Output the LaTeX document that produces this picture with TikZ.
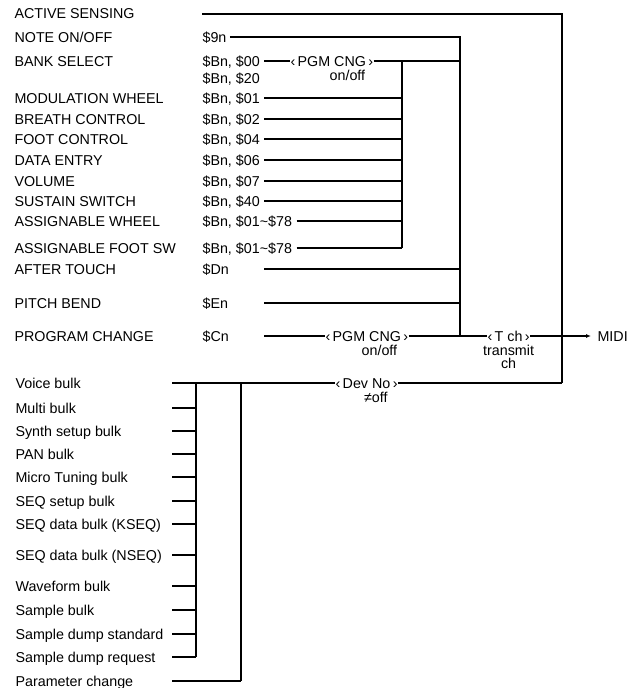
\documentclass[tikz,border=0pt]{standalone}
\usepackage{fontspec}
\setmainfont{Liberation Sans}
\usetikzlibrary{positioning, calc, arrows.meta}

\tikzset{
  msg/.style={anchor=west, inner sep=0pt, text height=10pt, text depth=0pt},
  short/.style={msg, text width=57pt, align=left},
  sw/.style={anchor=west, inner sep=0pt, text height=10pt, text depth=0pt},
  sub/.style={inner sep=0pt, text height=10pt, text depth=0pt},
  feed/.style={shorten <=4pt},
}

\begin{document}
\begin{tikzpicture}[x=1pt, y=-1pt, font=\fontsize{14.3}{16}\selectfont, line width=1.1pt]
  \useasboundingbox (0,0) rectangle (637,688);

  % Channel messages
  \node[msg] (as)  at (14,14)  {ACTIVE SENSING};
  \node[msg] (no)  at (14,37)  {NOTE ON/OFF};
  \node[msg] (bs)  at (14,61)  {BANK SELECT};
  \node[msg] (mw)  at (14,98)  {MODULATION WHEEL};
  \node[msg] (bc)  at (14,119) {BREATH CONTROL};
  \node[msg] (fc)  at (14,139) {FOOT CONTROL};
  \node[msg] (de)  at (14,160) {DATA ENTRY};
  \node[msg] (vo)  at (14,181) {VOLUME};
  \node[msg] (ss)  at (14,201) {SUSTAIN SWITCH};
  \node[msg] (aw)  at (14,221) {ASSIGNABLE WHEEL};
  \node[msg] (af)  at (14,248) {ASSIGNABLE FOOT SW};
  \node[msg] (aft) at (14,269) {AFTER TOUCH};
  \node[msg] (pb)  at (14,303) {PITCH BEND};
  \node[msg] (pc)  at (14,336) {PROGRAM CHANGE};

  % Status bytes
  \coordinate (c-as) at (202,14);
  \node[msg]   (c-no)  at (202,37)  {\$9n};
  \node[msg]   (c-bs)  at (202,61)  {\$Bn, \$00};
  \node[msg]   (c-bs2) at (202,78)  {\$Bn, \$20};
  \node[msg]   (c-mw)  at (202,98)  {\$Bn, \$01};
  \node[msg]   (c-bc)  at (202,119) {\$Bn, \$02};
  \node[msg]   (c-fc)  at (202,139) {\$Bn, \$04};
  \node[msg]   (c-de)  at (202,160) {\$Bn, \$06};
  \node[msg]   (c-vo)  at (202,181) {\$Bn, \$07};
  \node[msg]   (c-ss)  at (202,201) {\$Bn, \$40};
  \node[msg]   (c-aw)  at (202,221) {\$Bn, \$01\textasciitilde\$78};
  \node[msg]   (c-af)  at (202,248) {\$Bn, \$01\textasciitilde\$78};
  \node[short] (c-aft) at (202,269) {\$Dn};
  \node[short] (c-pb)  at (202,303) {\$En};
  \node[short] (c-pc)  at (202,336) {\$Cn};

  % Switches
  \node[sw] (pgm1) at (290,61) {‹\,PGM CNG\,›};
  \node[sub, anchor=north east] (oo1) at ([xshift=-8pt, yshift=-3pt]pgm1.south east) {on/off};
  \node[sw] (pgm2) at (325,336) {‹\,PGM CNG\,›};
  \node[sub, anchor=north east] (oo2) at ([xshift=-11pt, yshift=-3pt]pgm2.south east) {on/off};
  \node[sw] (tch) at (487,336) {‹\,T ch\,›};
  \node[sub, anchor=north] (tx) at ([yshift=-3pt]tch.south) {transmit};
  \node[sub, anchor=north] (txch) at ([yshift=-2pt]tx.south) {ch};
  \node[sw] (midi) at (597,336) {MIDI};

  % Buses
  \coordinate (busA-top) at (402,61);
  \coordinate (busA-bot) at (402,248);
  \coordinate (busB-top) at (460,37);
  \coordinate (busB-bot) at (460,336);
  \coordinate (busC-top) at (562,14);
  \coordinate (busC-bot) at (562,383);

  \draw (c-as) -- (busC-top) -- (busC-bot);
  \draw[shorten <=3pt] (c-no.east) -- (busB-top) -- (busB-bot);
  \draw[feed] (c-bs.east) -- (pgm1.west);
  \draw (pgm1.east) -- (pgm1.east -| busB-top);
  \draw (busA-top) -- (busA-bot);
  \draw[feed] (c-mw.east) -- (c-mw -| busA-top);
  \draw[feed] (c-bc.east) -- (c-bc -| busA-top);
  \draw[feed] (c-fc.east) -- (c-fc -| busA-top);
  \draw[feed] (c-de.east) -- (c-de -| busA-top);
  \draw[feed] (c-vo.east) -- (c-vo -| busA-top);
  \draw[feed] (c-ss.east) -- (c-ss -| busA-top);
  \draw[feed] (c-aw.east) -- (c-aw -| busA-top);
  \draw[feed] (c-af.east) -- (busA-bot);
  \draw[feed] (c-aft.east) -- (c-aft -| busB-top);
  \draw[feed] (c-pb.east) -- (c-pb -| busB-top);
  \draw[feed] (c-pc.east) -- (pgm2.west);
  \draw (pgm2.east) -- (tch.west);
  \draw[-{Latex[length=5pt, width=4pt]}, shorten >=6pt] (tch.east) -- (midi.west);

  % System exclusive messages
  \node[msg] (vb)   at (15,383) {Voice bulk};
  \node[msg] (mb)   at (15,408) {Multi bulk};
  \node[msg] (sb)   at (15,431) {Synth setup bulk};
  \node[msg] (pan)  at (15,454) {PAN bulk};
  \node[msg] (mt)   at (15,477) {Micro Tuning bulk};
  \node[msg] (sq)   at (15,501) {SEQ setup bulk};
  \node[msg] (kseq) at (15,524) {SEQ data bulk (KSEQ)};
  \node[msg] (nseq) at (15,555) {SEQ data bulk (NSEQ)};
  \node[msg] (wf)   at (15,586) {Waveform bulk};
  \node[msg] (smp)  at (15,610) {Sample bulk};
  \node[msg] (sds)  at (15,634) {Sample dump standard};
  \node[msg] (sdr)  at (15,657) {Sample dump request};
  \node[msg] (prm)  at (15,681) {Parameter change};

  \node[sw] (dev) at (335,383) {‹\,Dev No\,›};
  \node[sub, anchor=north east] (noff) at ([xshift=-10pt, yshift=-3pt]dev.south east) {≠off};

  \coordinate (sL) at (172,383);
  \coordinate (bus1-top) at (196,383);
  \coordinate (bus1-bot) at (196,657);
  \coordinate (bus2-top) at (241,383);
  \coordinate (bus2-bot) at (241,681);

  \draw (sL) -- (dev.west);
  \draw (dev.east) -- (busC-bot);
  \draw (bus1-top) -- (bus1-bot);
  \draw (bus2-top) -- (bus2-bot);
  \foreach \m in {mb, sb, pan, mt, sq, kseq, nseq, wf, smp, sds}
    \draw (\m -| sL) -- (\m -| bus1-top);
  \draw (sdr -| sL) -- (bus1-bot);
  \draw (prm -| sL) -- (bus2-bot);
\end{tikzpicture}
\end{document}
